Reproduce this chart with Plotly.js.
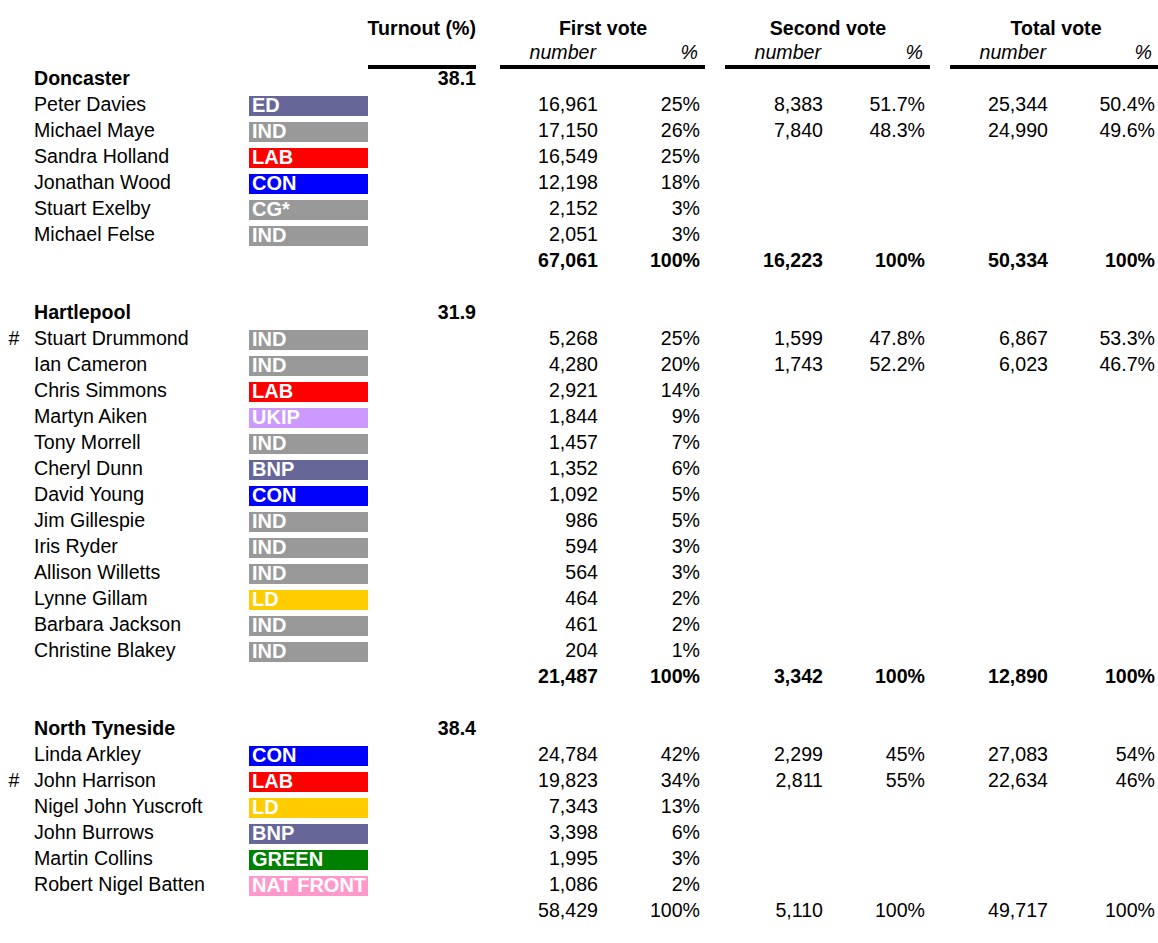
<!DOCTYPE html>
<html>
<head>
<meta charset="utf-8">
<script src="https://cdn.plot.ly/plotly-3.0.1.min.js"></script>
<style>html,body{margin:0;padding:0;background:#fff;}#chart{width:1158px;height:943px;}</style>
</head>
<body>
<div id="chart"></div>
<script>
// ---------------- DATA ----------------
const constituencies = ["Doncaster", "Hartlepool", "North Tyneside"];
const turnout = [38.1, 31.9, 38.4];

const doncasterNames   = ["Peter Davies", "Michael Maye", "Sandra Holland", "Jonathan Wood", "Stuart Exelby", "Michael Felse"];
const doncasterParties = ["ED", "IND", "LAB", "CON", "CG*", "IND"];
const doncasterMarks   = ["", "", "", "", "", ""];
const doncasterFirst   = [16961, 17150, 16549, 12198, 2152, 2051];
const doncasterFirstPct= [25, 26, 25, 18, 3, 3];
const doncasterSecond  = [8383, 7840];
const doncasterSecondPct = [51.7, 48.3];
const doncasterTotal   = [25344, 24990];
const doncasterTotalPct= [50.4, 49.6];
const doncasterSums    = [67061, 16223, 50334];

const hartlepoolNames   = ["Stuart Drummond", "Ian Cameron", "Chris Simmons", "Martyn Aiken", "Tony Morrell", "Cheryl Dunn", "David Young", "Jim Gillespie", "Iris Ryder", "Allison Willetts", "Lynne Gillam", "Barbara Jackson", "Christine Blakey"];
const hartlepoolParties = ["IND", "IND", "LAB", "UKIP", "IND", "BNP", "CON", "IND", "IND", "IND", "LD", "IND", "IND"];
const hartlepoolMarks   = ["#", "", "", "", "", "", "", "", "", "", "", "", ""];
const hartlepoolFirst   = [5268, 4280, 2921, 1844, 1457, 1352, 1092, 986, 594, 564, 464, 461, 204];
const hartlepoolFirstPct= [25, 20, 14, 9, 7, 6, 5, 5, 3, 3, 2, 2, 1];
const hartlepoolSecond  = [1599, 1743];
const hartlepoolSecondPct = [47.8, 52.2];
const hartlepoolTotal   = [6867, 6023];
const hartlepoolTotalPct= [53.3, 46.7];
const hartlepoolSums    = [21487, 3342, 12890];

const tynesideNames   = ["Linda Arkley", "John Harrison", "Nigel John Yuscroft", "John Burrows", "Martin Collins", "Robert Nigel Batten"];
const tynesideParties = ["CON", "LAB", "LD", "BNP", "GREEN", "NAT FRONT"];
const tynesideMarks   = ["", "#", "", "", "", ""];
const tynesideFirst   = [24784, 19823, 7343, 3398, 1995, 1086];
const tynesideFirstPct= [42, 34, 13, 6, 3, 2];
const tynesideSecond  = [2299, 2811];
const tynesideSecondPct = [45, 55];
const tynesideTotal   = [27083, 22634];
const tynesideTotalPct= [54, 46];
const tynesideSums    = [58429, 5110, 49717];

const sumPct = [100, 100, 100];
const pctDecimals = [1, 1, 0];      // decimals used for second/total vote %
const boldTotals = [true, true, false];

const partyColors = {
  "ED": "#666699", "IND": "#999999", "LAB": "#FF0000", "CON": "#0000FF", "CG*": "#999999",
  "UKIP": "#CC99FF", "BNP": "#666699", "LD": "#FFCC00", "GREEN": "#008000", "NAT FRONT": "#FF99CC"
};

const groups = [
  {names: doncasterNames, parties: doncasterParties, marks: doncasterMarks, first: doncasterFirst, firstPct: doncasterFirstPct,
   second: doncasterSecond, secondPct: doncasterSecondPct, total: doncasterTotal, totalPct: doncasterTotalPct, sums: doncasterSums},
  {names: hartlepoolNames, parties: hartlepoolParties, marks: hartlepoolMarks, first: hartlepoolFirst, firstPct: hartlepoolFirstPct,
   second: hartlepoolSecond, secondPct: hartlepoolSecondPct, total: hartlepoolTotal, totalPct: hartlepoolTotalPct, sums: hartlepoolSums},
  {names: tynesideNames, parties: tynesideParties, marks: tynesideMarks, first: tynesideFirst, firstPct: tynesideFirstPct,
   second: tynesideSecond, secondPct: tynesideSecondPct, total: tynesideTotal, totalPct: tynesideTotalPct, sums: tynesideSums}
];

// ---------------- LAYOUT GEOMETRY ----------------
const Y0 = 78, PITCH = 26, TEXT_DY = 2;
const X = {mark: 14, name: 34, bar: 249, barW: 119, party: 252, turnout: 476,
  n1: 598, p1: 700, n2: 823, p2: 925, n3: 1048, p3: 1155};
const FONT = "Liberation Sans, Arial, sans-serif";
const FS = 19.6;

const fmtN = v => v.toLocaleString("en-US");
const fmtP = (v, d) => v.toFixed(d) + "%";
const B = s => "<b>" + s + "</b>";

const cols = {mark: [], name: [], turnout: [], n1: [], p1: [], n2: [], p2: [], n3: [], p3: []};
const bars = {y: [], color: [], label: []};
function push(col, y, t) { cols[col].push({y: y, t: t}); }

let row = 0;
groups.forEach((g, gi) => {
  const yh = Y0 + row * PITCH;
  push("name", yh, B(constituencies[gi]));
  push("turnout", yh, B(turnout[gi].toFixed(1)));
  row++;
  g.names.forEach((nm, i) => {
    const y = Y0 + row * PITCH;
    if (g.marks[i]) push("mark", y, g.marks[i]);
    push("name", y, nm);
    bars.y.push(y); bars.color.push(partyColors[g.parties[i]]); bars.label.push(g.parties[i]);
    push("n1", y, fmtN(g.first[i]));
    push("p1", y, fmtP(g.firstPct[i], 0));
    if (i < g.second.length) {
      push("n2", y, fmtN(g.second[i]));
      push("p2", y, fmtP(g.secondPct[i], pctDecimals[gi]));
      push("n3", y, fmtN(g.total[i]));
      push("p3", y, fmtP(g.totalPct[i], pctDecimals[gi]));
    }
    row++;
  });
  const yt = Y0 + row * PITCH;
  const w = boldTotals[gi] ? B : (s => s);
  push("n1", yt, w(fmtN(g.sums[0]))); push("p1", yt, w(fmtP(sumPct[gi], 0)));
  push("n2", yt, w(fmtN(g.sums[1]))); push("p2", yt, w(fmtP(sumPct[gi], 0)));
  push("n3", yt, w(fmtN(g.sums[2]))); push("p3", yt, w(fmtP(sumPct[gi], 0)));
  row += 2;
});

const traces = [];
traces.push({
  type: "bar", orientation: "h",
  y: bars.y.map(v => v + 2), x: bars.y.map(() => X.barW), base: X.bar, width: 20,
  marker: {color: bars.color, line: {width: 0}}, hoverinfo: "skip", showlegend: false
});
traces.push({
  type: "scatter", mode: "text", x: bars.y.map(() => X.party), y: bars.y.map(v => v + 3),
  text: bars.label.map(B), textposition: "middle right",
  textfont: {family: FONT, size: 20, color: "#ffffff"}, cliponaxis: false, hoverinfo: "skip", showlegend: false
});

function textCol(col, pos) {
  const d = cols[col];
  traces.push({
    type: "scatter", mode: "text", x: d.map(() => X[col]), y: d.map(o => o.y + TEXT_DY), text: d.map(o => o.t),
    textposition: pos, textfont: {family: FONT, size: FS, color: "#000000"},
    cliponaxis: false, hoverinfo: "skip", showlegend: false
  });
}
textCol("mark", "middle center");
textCol("name", "middle right");
["turnout", "n1", "p1", "n2", "p2", "n3", "p3"].forEach(c => textCol(c, "middle left"));

const headerTitles = ["Turnout (%)", "First vote", "Second vote", "Total vote"];
const headerX = [476, 603, 828, 1056];
const headerPos = ["middle left", "middle center", "middle center", "middle center"];
headerTitles.forEach((t, i) => {
  traces.push({type: "scatter", mode: "text", x: [headerX[i]], y: [28 + TEXT_DY], text: [B(t)], textposition: headerPos[i],
    textfont: {family: FONT, size: FS, color: "#000"}, cliponaxis: false, hoverinfo: "skip", showlegend: false});
});
const subLabels = ["number", "%", "number", "%", "number", "%"];
const subX = [596, 698, 821, 923, 1046, 1152];
traces.push({type: "scatter", mode: "text", x: subX, y: subX.map(() => 52 + TEXT_DY), text: subLabels.map(s => "<i>" + s + "</i>"),
  textposition: "middle left", textfont: {family: FONT, size: FS, color: "#000"}, cliponaxis: false, hoverinfo: "skip", showlegend: false});

const lineSpans = [[368, 476], [500, 705], [725, 930], [950, 1158]];
const shapes = lineSpans.map(s => ({type: "line", xref: "x", yref: "y", x0: s[0], x1: s[1], y0: 67, y1: 67,
  line: {color: "#000", width: 4}}));

const layout = {
  width: 1158, height: 943, margin: {l: 0, r: 0, t: 0, b: 0},
  paper_bgcolor: "#fff", plot_bgcolor: "#fff",
  xaxis: {range: [0, 1158], visible: false, fixedrange: true},
  yaxis: {range: [943, 0], visible: false, fixedrange: true},
  shapes: shapes, showlegend: false, hovermode: false, barmode: "overlay",
  font: {family: FONT}
};
Plotly.newPlot("chart", traces, layout, {staticPlot: true, displayModeBar: false});
</script>
</body>
</html>
